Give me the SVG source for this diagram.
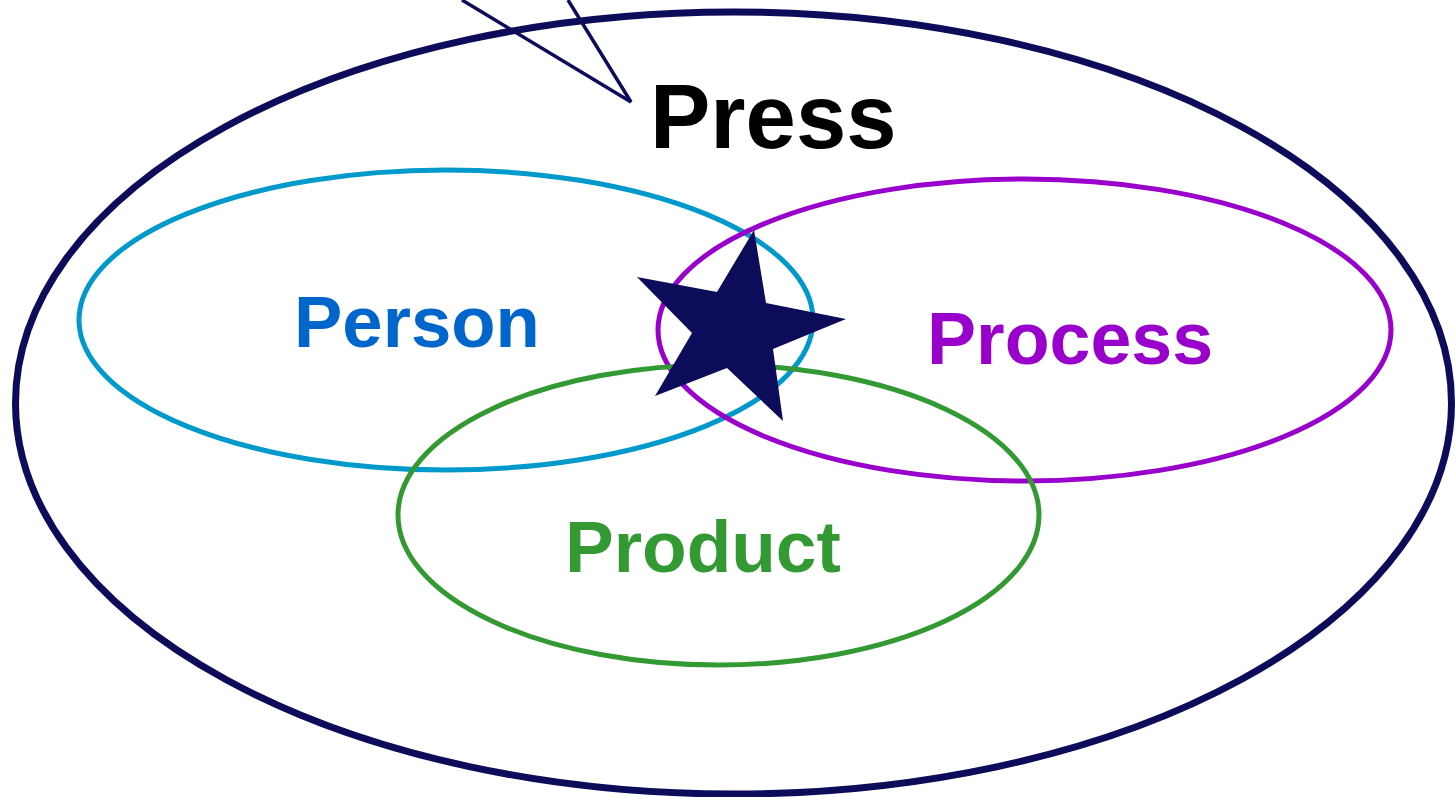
<svg xmlns="http://www.w3.org/2000/svg" width="1455" height="797" viewBox="0 0 1455 797">
  <style>
    .ring { fill: none; }
    .label { font-family: "Liberation Sans", Arial, sans-serif; font-weight: bold; }
  </style>
  <rect width="1455" height="797" fill="#ffffff"/>

  <g id="press">
    <ellipse class="ring" cx="733.5" cy="403" rx="718" ry="391" stroke="#0c0c5a" stroke-width="7"/>
    <text class="label" x="650" y="148" font-size="90.5" fill="#000000">Press</text>
  </g>

  <g id="person">
    <ellipse class="ring" cx="446" cy="320" rx="367" ry="150" stroke="#0099cc" stroke-width="5"/>
    <text class="label" x="294" y="347" font-size="72.5" fill="#0066cc">Person</text>
  </g>

  <g id="process">
    <ellipse class="ring" cx="1024.5" cy="330" rx="366.5" ry="151" stroke="#9900cc" stroke-width="5"/>
    <text class="label" x="927" y="364" font-size="73.5" fill="#9900cc">Process</text>
  </g>

  <g id="product">
    <ellipse class="ring" cx="718.5" cy="515" rx="320.5" ry="150" stroke="#339933" stroke-width="5"/>
    <text class="label" x="565" y="572" font-size="73" fill="#339933">Product</text>
  </g>

  <g id="connectors">
    <polyline points="462,0 631,102 568,0" fill="none" stroke="#0c0c5a" stroke-width="3.5" stroke-linejoin="miter"/>
  </g>

  <g id="star">
    <polygon points="754,230 766,303 846,319 773,349 783,421 727,368 655,396 692,333 637,277 717,292" fill="#0c0c5a"/>
  </g>
</svg>
